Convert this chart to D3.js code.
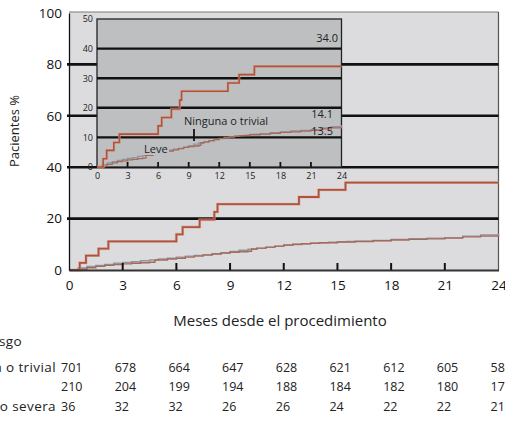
<!DOCTYPE html>
<html>
<head>
<meta charset="utf-8">
<script src="https://cdn.jsdelivr.net/npm/d3@7"></script>
<style>
  html, body { margin: 0; padding: 0; background: #ffffff; }
  svg { display: block; font-family: "Open Sans", "Noto Sans", sans-serif; }
</style>
</head>
<body>
<svg id="chart" width="505" height="428"></svg>
<script>
// Cumulative incidence (%) by months since procedure, Kaplan–Meier style steps
const months = [0, 3, 6, 9, 12, 15, 18, 21, 24];
const yTicksMain = [0, 20, 40, 60, 80, 100];
const yTicksInset = [0, 10, 20, 30, 40, 50];

// [month, %] — moderate or severe
const severa = [
  [0, 0], [0.6, 2.8], [0.95, 5.6], [1.65, 8.3], [2.2, 11.1], [6.0, 13.9],
  [6.35, 16.7], [7.3, 19.6], [8.12, 22.6], [8.3, 25.6], [12.85, 28.4],
  [13.95, 31.2], [15.45, 34.0], [24, 34.0]
];
// [month, %] — none or trivial
const ninguna = [
  [0, 0], [0.5, 0.8], [1, 1.4], [1.5, 1.8], [2, 2.2], [2.5, 2.6], [3, 2.9],
  [3.5, 3.2], [4, 3.6], [4.5, 3.9], [5, 4.3], [5.5, 4.6], [6, 5.0], [6.5, 5.4],
  [7, 5.7], [7.5, 6.0], [8, 6.3], [8.5, 6.7], [9, 7.2], [9.5, 7.7], [10, 8.1],
  [10.5, 8.4], [11, 8.8], [11.5, 9.2], [12, 9.6], [12.5, 9.9], [13, 10.2],
  [13.5, 10.4], [14, 10.6], [14.5, 10.8], [15, 11.0], [15.5, 11.1], [16, 11.2],
  [17, 11.5], [18, 11.9], [19, 12.2], [20, 12.4], [21, 12.6], [22, 13.2],
  [23, 13.6], [24, 14.1]
];
// [month, %] — mild
const leve = [
  [0, 0], [0.7, 0.3], [1, 0.9], [1.5, 1.4], [2, 1.8], [2.5, 2.1], [3, 2.4],
  [3.5, 2.6], [4, 2.8], [4.5, 3.0], [4.8, 3.9], [5.5, 4.3], [6, 4.6], [6.5, 5.0],
  [7, 5.4], [7.5, 5.8], [8, 6.2], [8.5, 6.6], [9, 6.9], [9.5, 7.1], [10, 7.3],
  [10.2, 8.2], [10.5, 8.5], [11, 8.9], [11.5, 9.3], [12, 9.7], [12.5, 10.0],
  [13, 10.2], [13.5, 10.4], [14, 10.6], [15, 10.9], [16, 11.1], [17, 11.4],
  [18, 11.7], [19, 11.9], [20, 12.1], [21, 12.4], [22, 12.9], [23, 13.2],
  [24, 13.5]
];

// Patients at risk at each 3-month mark
const riskLabels = ["Ninguna o trivial", "Leve", "Moderada o severa"];
const riskNinguna = [701, 678, 664, 647, 628, 621, 612, 605, 585];
const riskLeve = [210, 204, 199, 194, 188, 184, 182, 180, 175];
const riskSevera = [36, 32, 32, 26, 26, 24, 22, 22, 21];

const finalLabels = ["34.0", "14.1", "13.5"];

const svg = d3.select("#chart");

const BG_MAIN = "#dcdcde";
const BG_INSET = "#bebfc1";
const RED = "#b0523c";
const RED_THIN = "#a9695a";
const BLUEGRAY = "#8d95a1";

// ---------- main panel ----------
const x = d3.scaleLinear().domain([0, 24]).range([69, 498.5]);
const y = d3.scaleLinear().domain([0, 100]).range([270, 13]);

svg.append("rect")
  .attr("x", x(0)).attr("y", y(100) - 1)
  .attr("width", x(24) - x(0)).attr("height", y(0) - y(100) + 1)
  .attr("fill", BG_MAIN);

// top and right frame
svg.append("line").attr("x1", x(0)).attr("x2", x(24)).attr("y1", y(100) - 1).attr("y2", y(100) - 1)
  .attr("stroke", "#7a7a7c").attr("stroke-width", 1.2);
svg.append("line").attr("x1", x(24)).attr("x2", x(24)).attr("y1", y(100) - 1).attr("y2", y(0))
  .attr("stroke", "#555").attr("stroke-width", 1.2);

// horizontal reference lines
svg.append("g").selectAll("line")
  .data(yTicksMain.filter(d => d > 0 && d < 100))
  .join("line")
  .attr("x1", x(0) - 2).attr("x2", x(24))
  .attr("y1", d => y(d)).attr("y2", d => y(d))
  .attr("stroke", "#111").attr("stroke-width", 2.6);

const lineMain = d3.line().x(d => x(d[0])).y(d => y(d[1])).curve(d3.curveStepAfter);

function drawCurves(g, line, wThick, wThin) {
  g.append("path").datum(ninguna).attr("d", line).attr("fill", "none")
    .attr("stroke", BLUEGRAY).attr("stroke-width", wThin);
  g.append("path").datum(leve).attr("d", line).attr("fill", "none")
    .attr("stroke", RED_THIN).attr("stroke-width", wThin);
  g.append("path").datum(severa).attr("d", line).attr("fill", "none")
    .attr("stroke", "#d9a090").attr("stroke-width", wThick + 1.2).attr("stroke-opacity", 0.6);
  g.append("path").datum(severa).attr("d", line).attr("fill", "none")
    .attr("stroke", RED).attr("stroke-width", wThick);
}
drawCurves(svg.append("g"), lineMain, 1.8, 1.4);

// axes
const xAxis = svg.append("g").attr("transform", `translate(0,${y(0)})`)
  .call(d3.axisBottom(x).tickValues(months).tickSize(0).tickPadding(10).tickFormat(d3.format("d")));
xAxis.select(".domain").attr("stroke", "#333").attr("stroke-width", 2);
xAxis.selectAll("text").attr("font-size", 13.5).attr("fill", "#111").attr("font-family", "Open Sans");
svg.append("g").selectAll("line")
  .data(months.filter(d => d > 0 && d < 24))
  .join("line")
  .attr("x1", d => x(d)).attr("x2", d => x(d))
  .attr("y1", y(0)).attr("y2", y(0) - 7)
  .attr("stroke", "#111").attr("stroke-width", 2);

const yAxis = svg.append("g").attr("transform", `translate(${x(0)},0)`)
  .call(d3.axisLeft(y).tickValues(yTicksMain).tickSize(0).tickPadding(7));
yAxis.select(".domain").attr("stroke", "#111").attr("stroke-width", 1.3);
yAxis.selectAll("text").attr("font-size", 13.5).attr("fill", "#111").attr("font-family", "Open Sans");

// ---------- inset panel ----------
const xi = d3.scaleLinear().domain([0, 24]).range([97, 341.5]);
const yi = d3.scaleLinear().domain([0, 50]).range([167, 19]);

const inset = svg.append("g");
inset.append("rect")
  .attr("x", xi(0)).attr("y", yi(50))
  .attr("width", xi(24) - xi(0)).attr("height", yi(0) - yi(50))
  .attr("fill", BG_INSET).attr("stroke", "#222").attr("stroke-width", 1.3);

inset.append("g").selectAll("line")
  .data(yTicksInset.filter(d => d > 0 && d < 50))
  .join("line")
  .attr("x1", xi(0)).attr("x2", xi(24))
  .attr("y1", d => yi(d)).attr("y2", d => yi(d))
  .attr("stroke", "#111").attr("stroke-width", 2.4);

const lineInset = d3.line().x(d => xi(d[0])).y(d => yi(d[1])).curve(d3.curveStepAfter);
drawCurves(inset.append("g"), lineInset, 1.6, 1.3);

// inset axis ticks and labels
inset.append("g").selectAll("line")
  .data(months.filter(d => d > 0 && d < 24))
  .join("line")
  .attr("x1", d => xi(d)).attr("x2", d => xi(d))
  .attr("y1", yi(0)).attr("y2", yi(0) - 5)
  .attr("stroke", "#111").attr("stroke-width", 1.8);

const xiAxis = inset.append("g").attr("transform", `translate(0,${yi(0)})`)
  .call(d3.axisBottom(xi).tickValues(months).tickSize(0).tickPadding(6));
xiAxis.select(".domain").remove();
xiAxis.selectAll("text").attr("font-size", 9).attr("fill", "#222").attr("font-family", "Open Sans");

const yiAxis = inset.append("g").attr("transform", `translate(${xi(0)},0)`)
  .call(d3.axisLeft(yi).tickValues(yTicksInset).tickSize(0).tickPadding(4));
yiAxis.select(".domain").remove();
yiAxis.selectAll("text").attr("font-size", 9).attr("fill", "#222").attr("font-family", "Open Sans");

// curve annotations
const leveLabel = inset.append("g");
leveLabel.append("rect").attr("x", 142).attr("y", 141).attr("width", 27).attr("height", 14)
  .attr("fill", BG_INSET);
leveLabel.append("text").attr("x", 144).attr("y", 153).text("Leve")
  .attr("font-size", 11).attr("fill", "#222");

inset.append("text").attr("x", 184).attr("y", 125).text("Ninguna o trivial")
  .attr("font-size", 11).attr("fill", "#222");
inset.append("line").attr("x1", 194).attr("x2", 194).attr("y1", 129).attr("y2", 141)
  .attr("stroke", "#111").attr("stroke-width", 1.8);

inset.append("text").attr("x", 338).attr("y", 42).attr("text-anchor", "end")
  .text(finalLabels[0]).attr("font-size", 11).attr("fill", "#222");
inset.append("text").attr("x", 333).attr("y", 118).attr("text-anchor", "end")
  .text(finalLabels[1]).attr("font-size", 11).attr("fill", "#222");
inset.append("text").attr("x", 333).attr("y", 135).attr("text-anchor", "end")
  .text(finalLabels[2]).attr("font-size", 11).attr("fill", "#222");

// ---------- axis titles ----------
svg.append("text")
  .attr("transform", "translate(19,131) rotate(-90)")
  .attr("text-anchor", "middle")
  .attr("font-size", 13).attr("fill", "#222")
  .text("Pacientes %");

svg.append("text")
  .attr("x", 280).attr("y", 326)
  .attr("text-anchor", "middle")
  .attr("font-size", 15).attr("fill", "#222")
  .text("Meses desde el procedimiento");

// ---------- patients at risk table ----------
svg.append("text").attr("x", 22).attr("y", 346).attr("text-anchor", "end")
  .attr("font-size", 13.5).attr("letter-spacing", 0.4).attr("fill", "#222").text("Pacientes en riesgo");

const rows = [
  { label: riskLabels[0], values: riskNinguna, y: 372, end: 56 },
  { label: riskLabels[1], values: riskLeve, y: 391, end: -4 },
  { label: riskLabels[2], values: riskSevera, y: 411, end: 56 }
];
rows.forEach(r => {
  svg.append("text").attr("x", r.end).attr("y", r.y).attr("text-anchor", "end")
    .attr("font-size", 13.5).attr("letter-spacing", 0.4).attr("fill", "#222").text(r.label);
  svg.append("g").selectAll("text")
    .data(r.values)
    .join("text")
    .attr("x", (d, i) => x(months[i]) - 8)
    .attr("y", r.y)
    .attr("text-anchor", "start")
    .attr("font-size", 12.5).attr("fill", "#222")
    .text(d => d);
});
</script>
</body>
</html>
